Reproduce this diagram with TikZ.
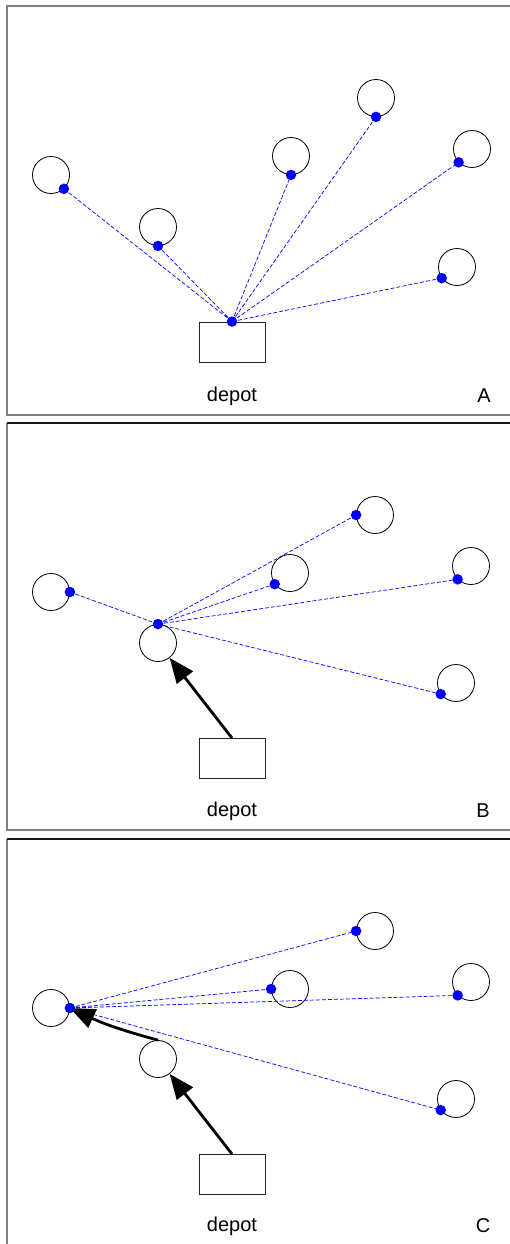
\documentclass[tikz,border=0pt]{standalone}
\usepackage{fontspec}
\setmainfont{Liberation Sans}
\usepackage{tikz}
\usetikzlibrary{positioning}
\usetikzlibrary{arrows.meta}
\usetikzlibrary{calc}

\tikzset{
	frame/.style={draw=black!50, line width=1.3pt},
	cust/.style={circle, draw=black, line width=0.8pt, minimum size=37pt, inner sep=0pt},
	depotbox/.style={rectangle, draw=black!85, line width=0.9pt, minimum width=66pt, minimum height=40pt, inner sep=0pt},
	visit/.style={circle, fill=blue, minimum size=10.5pt, inner sep=0pt},
	link/.style={draw=blue, dash pattern=on 4pt off 2pt, line width=0.7pt},
	route/.style={draw=black, line width=2.8pt, -{Triangle[length=25pt,width=20pt]}},
	lbl/.style={font=\fontsize{20}{22}\selectfont, inner sep=0pt}
}

\begin{document}
\begin{tikzpicture}[x=1pt,y=-1pt]
	\clip (0,0) rectangle (510,1244);
	\fill[white] (0,0) rectangle (510,1244);

	% frames
	\draw[frame] (520,6) -- (7,6) -- (7,415) -- (520,415);
	\draw[frame] (7,423) -- (7,830) -- (520,830);
	\draw[black!90, line width=1.1pt] (7,423) -- (520,423);
	\draw[frame] (7,839) -- (7,1260);
	\draw[black!90, line width=1.1pt] (7,839) -- (520,839);

	% panel A
	\begin{scope}
		\node[cust] (a1) at (51,175) {};
		\node[cust] (a2) at (158,227) {};
		\node[cust] (a3) at (291,156) {};
		\node[cust] (a4) at (376,98) {};
		\node[cust] (a5) at (472,149) {};
		\node[cust] (a6) at (457,267) {};
		\node[depotbox] (ad) at (232,342) {};
		\node[lbl] (adl) at (232,396) {depot};
		\node[lbl] (atag) at (484,396) {A};

		\coordinate (av0) at (ad.north);
		\coordinate (av1) at (a1.-47);
		\coordinate (av2) at (a2.-90);
		\coordinate (av3) at (a3.-90);
		\coordinate (av4) at (a4.-90);
		\coordinate (av5) at (a5.-135);
		\coordinate (av6) at (a6.-144);

		\path[link] (av0) -- (av1) (av0) -- (av2) (av0) -- (av3)
			(av0) -- (av4) (av0) -- (av5) (av0) -- (av6);
		\foreach \v in {av0,av1,av2,av3,av4,av5,av6}
			\node[visit] at (\v) {};
	\end{scope}

	% panel B
	\begin{scope}
		\node[cust] (b1) at (51,592) {};
		\node[cust] (b2) at (158,643) {};
		\node[cust] (b3) at (290,573) {};
		\node[cust] (b4) at (375,515) {};
		\node[cust] (b5) at (471,566) {};
		\node[cust] (b6) at (456,683) {};
		\node[depotbox] (bd) at (232,758.5) {};
		\node[lbl] (bdl) at (232,811) {depot};
		\node[lbl] (btag) at (483,811) {B};

		\coordinate (bv1) at (b1.0);
		\coordinate (bv2) at (b2.90);
		\coordinate (bv3) at (b3.-144);
		\coordinate (bv4) at (b4.180);
		\coordinate (bv5) at (b5.-135);
		\coordinate (bv6) at (b6.-144);

		\path[link] (bv2) -- (bv1) (bv2) -- (bv3) (bv2) -- (bv4)
			(bv2) -- (bv5) (bv2) -- (bv6);
		\draw[route] (bd.north) -- (b2);
		\foreach \v in {bv1,bv2,bv3,bv4,bv5,bv6}
			\node[visit] at (\v) {};
	\end{scope}

	% panel C
	\begin{scope}
		\node[cust] (c1) at (51,1008) {};
		\node[cust] (c2) at (158,1059) {};
		\node[cust] (c3) at (290,989) {};
		\node[cust] (c4) at (375,931) {};
		\node[cust] (c5) at (471,982) {};
		\node[cust] (c6) at (456,1099) {};
		\node[depotbox] (cd) at (232,1174.5) {};
		\node[lbl] (cdl) at (232,1226) {depot};
		\node[lbl] (ctag) at (483,1226) {C};

		\coordinate (cv1) at (c1.0);
		\coordinate (cv3) at (c3.180);
		\coordinate (cv4) at (c4.180);
		\coordinate (cv5) at (c5.-135);
		\coordinate (cv6) at (c6.-144);

		\path[link] (cv1) -- (cv3) (cv1) -- (cv4) (cv1) -- (cv5) (cv1) -- (cv6);
		\draw[route] (cd.north) -- (c2);
		\draw[route] (c2.north) to[bend left=5] (cv1);
		\foreach \v in {cv1,cv3,cv4,cv5,cv6}
			\node[visit] at (\v) {};
	\end{scope}
\end{tikzpicture}
\end{document}
